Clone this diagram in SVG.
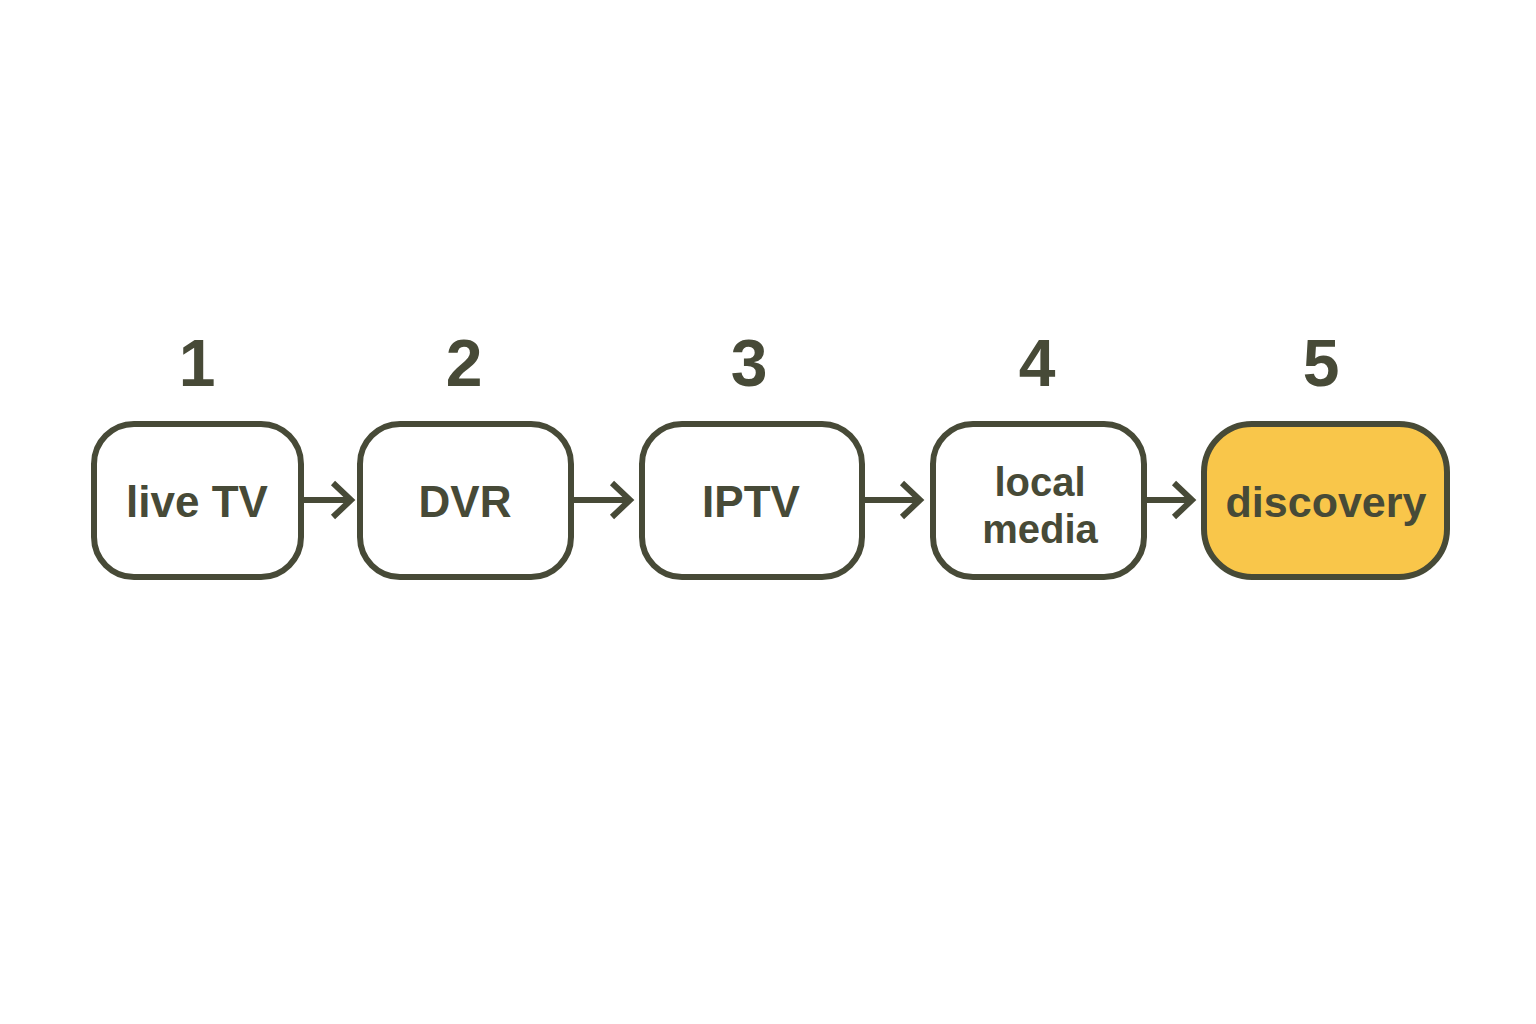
<svg xmlns="http://www.w3.org/2000/svg" width="1536" height="1024" viewBox="0 0 1536 1024">
<defs>
<style>
.box{fill:#ffffff;stroke:#474a37;stroke-width:6}
.hl{fill:#f9c64a}
.lbl{font-family:"Liberation Sans",Arial,sans-serif;font-weight:bold;font-size:44px;fill:#474a37;text-anchor:middle}
.sm{font-size:40px}
.num{font-family:"Liberation Sans",Arial,sans-serif;font-weight:bold;font-size:66px;fill:#474a37;text-anchor:middle}
.conn{fill:none;stroke:#474a37;stroke-width:6;stroke-linecap:butt;stroke-linejoin:miter}
</style>
</defs>
<rect width="1536" height="1024" fill="#ffffff"/>
<g id="n1">
<text class="num" x="197" y="386">1</text>
<rect class="box" x="94" y="424" width="207" height="153" rx="40"/>
<text class="lbl" x="197" y="517">live TV</text>
</g>
<g id="n2">
<text class="num" x="464" y="386">2</text>
<rect class="box" x="360" y="424" width="211" height="153" rx="40"/>
<text class="lbl" x="465" y="517">DVR</text>
</g>
<g id="n3">
<text class="num" x="749" y="386">3</text>
<rect class="box" x="642" y="424" width="220" height="153" rx="40"/>
<text class="lbl" x="751" y="517">IPTV</text>
</g>
<g id="n4">
<text class="num" x="1037" y="386">4</text>
<rect class="box" x="933" y="424" width="211" height="153" rx="40"/>
<text class="lbl sm" x="1040" y="496">local</text>
<text class="lbl sm" x="1040" y="543">media</text>
</g>
<g id="n5">
<text class="num" x="1321" y="386">5</text>
<rect class="box hl" x="1204" y="424" width="243" height="153" rx="48"/>
<text class="lbl" x="1326" y="517" style="font-size:43px">discovery</text>
</g>
<g id="connectors">
<path class="conn" d="M303 500H351M333 483L351 500L333 517"/>
<path class="conn" d="M573 500H630M612 483L630 500L612 517"/>
<path class="conn" d="M864 500H920M902 483L920 500L902 517"/>
<path class="conn" d="M1146 500H1192M1174 483L1192 500L1174 517"/>
</g>
</svg>
